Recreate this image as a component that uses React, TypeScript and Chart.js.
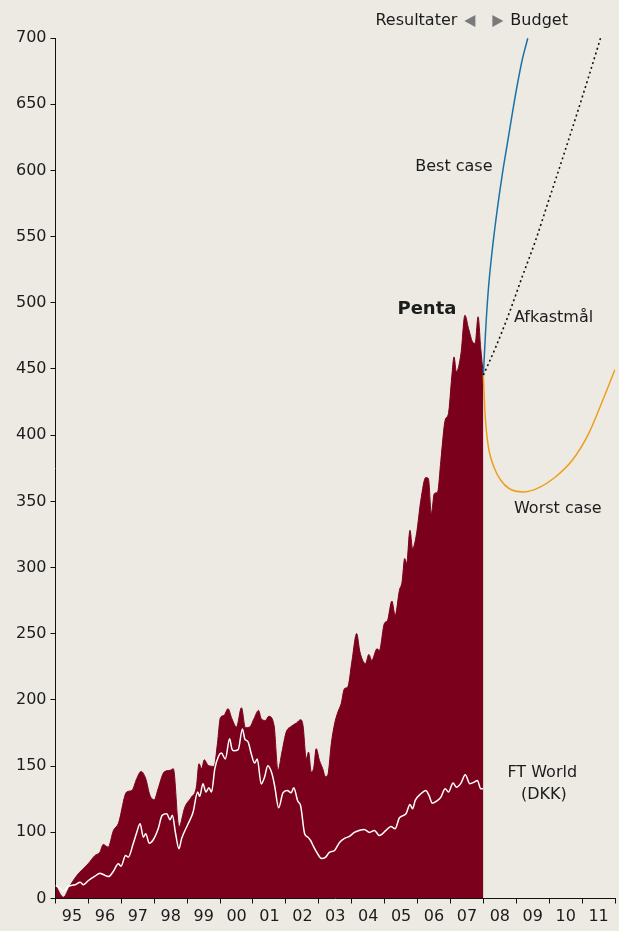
import React, { useEffect, useRef } from "react";
import { Chart, registerables } from "chart.js";

Chart.register(...registerables);

// ---- Data ----
const pentaYears = [
  1995.0, 1995.24, 1995.45, 1995.65, 1996.0, 1996.2, 1996.35, 1996.45, 1996.6, 1996.76, 1996.91,
  1997.16, 1997.32, 1997.47, 1997.6, 1997.74, 1997.87, 1998.0, 1998.12, 1998.3, 1998.48, 1998.58,
  1998.75, 1998.93, 1999.13, 1999.28, 1999.36, 1999.44, 1999.52, 1999.64, 1999.82, 1999.92,
  2000.01, 2000.12, 2000.24, 2000.36, 2000.5, 2000.65, 2000.77, 2000.9, 2001.03, 2001.17, 2001.25,
  2001.38, 2001.48, 2001.64, 2001.76, 2001.88, 2002.01, 2002.16, 2002.32, 2002.45, 2002.52,
  2002.62, 2002.69, 2002.77, 2002.85, 2002.92, 2003.02, 2003.12, 2003.2, 2003.27, 2003.38,
  2003.48, 2003.58, 2003.68, 2003.78, 2003.88, 2004.01, 2004.15, 2004.25, 2004.42, 2004.52,
  2004.61, 2004.77, 2004.84, 2004.99, 2005.09, 2005.22, 2005.32, 2005.45, 2005.53, 2005.61,
  2005.67, 2005.77, 2005.85, 2005.97, 2006.1, 2006.25, 2006.33, 2006.42, 2006.51, 2006.61,
  2006.71, 2006.84, 2006.94, 2007.04, 2007.11, 2007.18, 2007.32, 2007.44, 2007.55, 2007.67,
  2007.75, 2007.84, 2007.92, 2008.0,
];
const pentaValues = [
  60, 51, 60, 67.4, 76.5, 82.5, 85, 90.8, 88.8, 101.4, 106.7,
  130.4, 131.6, 140.7, 146, 140.7, 127.9, 124.6, 133.1, 145.5, 146.8, 148,
  103.9, 119, 126.6, 134.1, 151.8, 148, 154.8, 150.5, 149.8, 167,
  186.6, 188.3, 193.4, 185.8, 179.5, 194.1, 179, 179.5, 185.8, 192.1, 185.8,
  184.5, 187.6, 180.8, 146.8, 160.6, 175.7, 180, 182.5, 185.1, 180.8,
  155.6, 160.6, 145.5, 149.2, 163.2, 154.3, 148, 142.2, 143, 167,
  182, 190.8, 197.2, 208.5, 209.7, 229.9, 250.1, 236.2, 227.4, 234.4,
  229.9, 238.7, 237.4, 257.6, 260.1, 274.7, 263.9, 282.8, 289.1, 306.8,
  303, 328.1, 314.3, 325.6, 350.8, 368, 367.2, 340.8, 355.9, 357.1,
  381.1, 411.3, 416.3, 444, 459.1, 447.8, 461.7, 490.6, 480.6, 470.5,
  469.3, 489.4, 465.5, 445.3,
];

const ftYears = [
  1995.0, 1995.09, 1995.24, 1995.39, 1995.6, 1995.75, 1995.85, 1996.0, 1996.2, 1996.35, 1996.45,
  1996.61, 1996.76, 1996.91, 1996.99, 1997.13, 1997.21, 1997.36, 1997.47, 1997.57, 1997.67,
  1997.74, 1997.85, 1997.97, 1998.12, 1998.24, 1998.38, 1998.48, 1998.55, 1998.65, 1998.75,
  1998.83, 1999.03, 1999.18, 1999.32, 1999.38, 1999.48, 1999.57, 1999.66, 1999.74, 1999.84,
  1999.96, 2000.04, 2000.16, 2000.29, 2000.36, 2000.42, 2000.55, 2000.68, 2000.75, 2000.85,
  2000.95, 2001.05, 2001.13, 2001.25, 2001.35, 2001.45, 2001.58, 2001.66, 2001.78, 2001.91,
  2002.04, 2002.16, 2002.24, 2002.36, 2002.45, 2002.57, 2002.67, 2002.75, 2002.84, 2002.96,
  2003.08, 2003.2, 2003.32, 2003.48, 2003.63, 2003.78, 2003.93, 2004.08, 2004.23, 2004.38,
  2004.54, 2004.69, 2004.84, 2005.04, 2005.19, 2005.32, 2005.45, 2005.65, 2005.77, 2005.85,
  2005.93, 2006.1, 2006.25, 2006.35, 2006.45, 2006.61, 2006.71, 2006.84, 2006.94, 2007.08,
  2007.18, 2007.32, 2007.45, 2007.59, 2007.72, 2007.82, 2007.92, 2007.99,
];
const ftValues = [
  59.8, 58.6, 55.5, 59.1, 60.4, 62.3, 60.4, 63.6, 66.9, 69.1, 68.1,
  66.6, 70.6, 76.2, 74.4, 82.5, 81.2, 91.3, 100.1, 106.5, 96.3,
  98.9, 91.8, 94.4, 102.7, 112.8, 114, 109.5, 112.8, 98.9, 87.6,
  95.1, 106.5, 115.2, 130.4, 127.2, 136.7, 130.4, 133.7, 130.4, 147.9,
  157.8, 159.9, 155.4, 170.6, 163, 161.6, 162.4, 178.1, 170.6, 168.4,
  159.1, 152.3, 155.4, 136.5, 141.5, 150.3, 144.1, 134.9, 118.5, 129.8,
  131.6, 129.8, 133.6, 123.6, 119.8, 98.9, 96.3, 93.8, 89.3, 84,
  80.2, 81, 84.8, 86.3, 92.3, 95.4, 96.9, 99.9, 101.4, 102.2,
  99.9, 101.4, 97.6, 101.4, 104.4, 102.7, 111, 114, 121, 117.8,
  124.1, 129.1, 131.6, 127.8, 122, 124.1, 126.6, 132.9, 130.4, 137.2,
  134.1, 137.2, 143.5, 136.7, 137.9, 139.2, 132.9, 132.9,
];

const bestYears = [2008.0, 2008.07, 2008.15, 2008.27, 2008.42, 2008.58, 2008.73, 2008.88, 2009.03, 2009.18, 2009.35];
const bestValues = [445.3, 479.3, 509.5, 539.8, 570, 597.7, 620.4, 643.1, 664.5, 683.4, 699.8];

const targetYears = [2008.0, 2008.38, 2008.78, 2009.18, 2009.59, 2009.99, 2010.39, 2010.8, 2011.2, 2011.56];
const targetValues = [445.3, 466.7, 491.9, 519.6, 547.3, 577.6, 607.8, 639.3, 670.8, 699.8];

const worstYears = [2008.0, 2008.04, 2008.09, 2008.17, 2008.32, 2008.53, 2008.78, 2009.21, 2009.69, 2010.19, 2010.7, 2011.2, 2011.71, 2012.0];
const worstValues = [445.3, 421.3, 403.7, 388.6, 376, 365.9, 359.7, 357.1, 360.4, 368.4, 381, 401.2, 431.5, 449.6];

const yearTicks = ["95", "96", "97", "98", "99", "00", "01", "02", "03", "04", "05", "06", "07", "08", "09", "10", "11"];

const xMin = 1995;
const xMax = 2012;
const yMin = 50;
const yMax = 700;
const yStep = 50;

const FONT = '"DejaVu Sans", sans-serif';
const TEXT = "#1c1c1c";

type Note = { text: string; x: number; y: number; align: CanvasTextAlign; bold?: boolean; size: number };
const notes: Note[] = [
  { text: "Best case", x: 2005.93, y: 602.5, align: "left", size: 16 },
  { text: "Penta", x: 2005.39, y: 495.2, align: "left", bold: true, size: 18 },
  { text: "Afkastmål", x: 2008.93, y: 488.4, align: "left", size: 16 },
  { text: "Worst case", x: 2008.93, y: 344.0, align: "left", size: 16 },
  { text: "FT World", x: 2009.79, y: 145.2, align: "center", size: 16 },
  { text: "(DKK)", x: 2009.84, y: 128.6, align: "center", size: 16 },
];

const toPts = (xs: number[], ys: number[]) => xs.map((x, i) => ({ x, y: ys[i] }));

const annotPlugin = {
  id: "annot",
  afterDraw(chart: any) {
    const { ctx, scales, chartArea } = chart;
    const xs = scales.x;
    const ys = scales.y;
    ctx.save();
    ctx.fillStyle = TEXT;
    ctx.textBaseline = "middle";
    notes.forEach((n) => {
      ctx.font = `${n.bold ? "bold " : ""}${n.size}px ${FONT}`;
      ctx.textAlign = n.align;
      ctx.fillText(n.text, xs.getPixelForValue(n.x), ys.getPixelForValue(n.y));
    });
    // header
    const cx = xs.getPixelForValue(2008);
    const hy = chartArea.top - 17;
    ctx.font = `16px ${FONT}`;
    ctx.textAlign = "right";
    ctx.fillText("Resultater", cx - 26, hy);
    ctx.textAlign = "left";
    ctx.fillText("Budget", cx + 27, hy);
    ctx.fillStyle = "#7a7a7a";
    ctx.beginPath();
    ctx.moveTo(cx - 19, hy);
    ctx.lineTo(cx - 8, hy - 6);
    ctx.lineTo(cx - 8, hy + 6);
    ctx.closePath();
    ctx.fill();
    ctx.beginPath();
    ctx.moveTo(cx + 20, hy);
    ctx.lineTo(cx + 9, hy - 6);
    ctx.lineTo(cx + 9, hy + 6);
    ctx.closePath();
    ctx.fill();
    ctx.restore();
  },
};

export default function App() {
  const ref = useRef<HTMLCanvasElement | null>(null);
  useEffect(() => {
    if (!ref.current) return;
    const chart = new Chart(ref.current, {
      type: "line",
      data: {
        datasets: [
          {
            label: "Penta",
            data: toPts(pentaYears, pentaValues),
            borderColor: "#7B001C",
            backgroundColor: "#7B001C",
            borderWidth: 1,
            fill: "start",
            cubicInterpolationMode: "monotone",
            order: 5,
          },
          {
            label: "FT World (DKK)",
            data: toPts(ftYears, ftValues),
            borderColor: "#ffffff",
            borderWidth: 1.5,
            fill: false,
            cubicInterpolationMode: "monotone",
            order: 4,
          },
          {
            label: "Best case",
            data: toPts(bestYears, bestValues),
            borderColor: "#1B72A6",
            borderWidth: 1.5,
            fill: false,
            cubicInterpolationMode: "monotone",
            order: 3,
          },
          {
            label: "Afkastmål",
            data: toPts(targetYears, targetValues),
            borderColor: "#111111",
            borderWidth: 1.6,
            borderDash: [2, 3],
            fill: false,
            cubicInterpolationMode: "monotone",
            order: 2,
          },
          {
            label: "Worst case",
            data: toPts(worstYears, worstValues),
            borderColor: "#EE9E1E",
            borderWidth: 1.5,
            fill: false,
            cubicInterpolationMode: "monotone",
            order: 1,
          },
        ],
      },
      options: {
        animation: false,
        responsive: false,
        maintainAspectRatio: false,
        layout: { padding: { top: 38, right: 3, left: 0, bottom: 0 } },
        elements: { point: { radius: 0 } },
        plugins: { legend: { display: false }, tooltip: { enabled: false } },
        scales: {
          x: {
            type: "linear",
            min: xMin,
            max: xMax,
            afterFit(s: any) {
              s.height = 32.5;
            },
            ticks: {
              stepSize: 1,
              autoSkip: false,
              maxRotation: 0,
              labelOffset: 16.5,
              padding: 4,
              color: TEXT,
              font: { family: FONT, size: 16 },
              callback: (v: any) => {
                const i = Math.round(Number(v)) - xMin;
                return yearTicks[i] ?? "";
              },
            },
            grid: { drawOnChartArea: false, drawTicks: true, tickLength: 5, color: "#111" },
            border: { display: true, color: "#111", width: 1 },
          },
          y: {
            min: yMin,
            max: yMax,
            afterFit(s: any) {
              s.width = 55.5;
            },
            ticks: {
              stepSize: yStep,
              padding: 4,
              color: TEXT,
              font: { family: FONT, size: 16 },
              callback: (v: any) => (Number(v) === yMin ? "0" : String(v)),
            },
            grid: { drawOnChartArea: false, drawTicks: true, tickLength: 5, color: "#111" },
            border: { display: true, color: "#111", width: 1 },
          },
        },
      },
      plugins: [annotPlugin],
    } as any);
    return () => chart.destroy();
  }, []);
  return (
    <div style={{ position: "fixed", left: 0, top: 0, width: 619, height: 931, background: "#ECEAE3" }}>
      <canvas ref={ref} width={619} height={931} style={{ display: "block", width: 619, height: 931 }} />
    </div>
  );
}
